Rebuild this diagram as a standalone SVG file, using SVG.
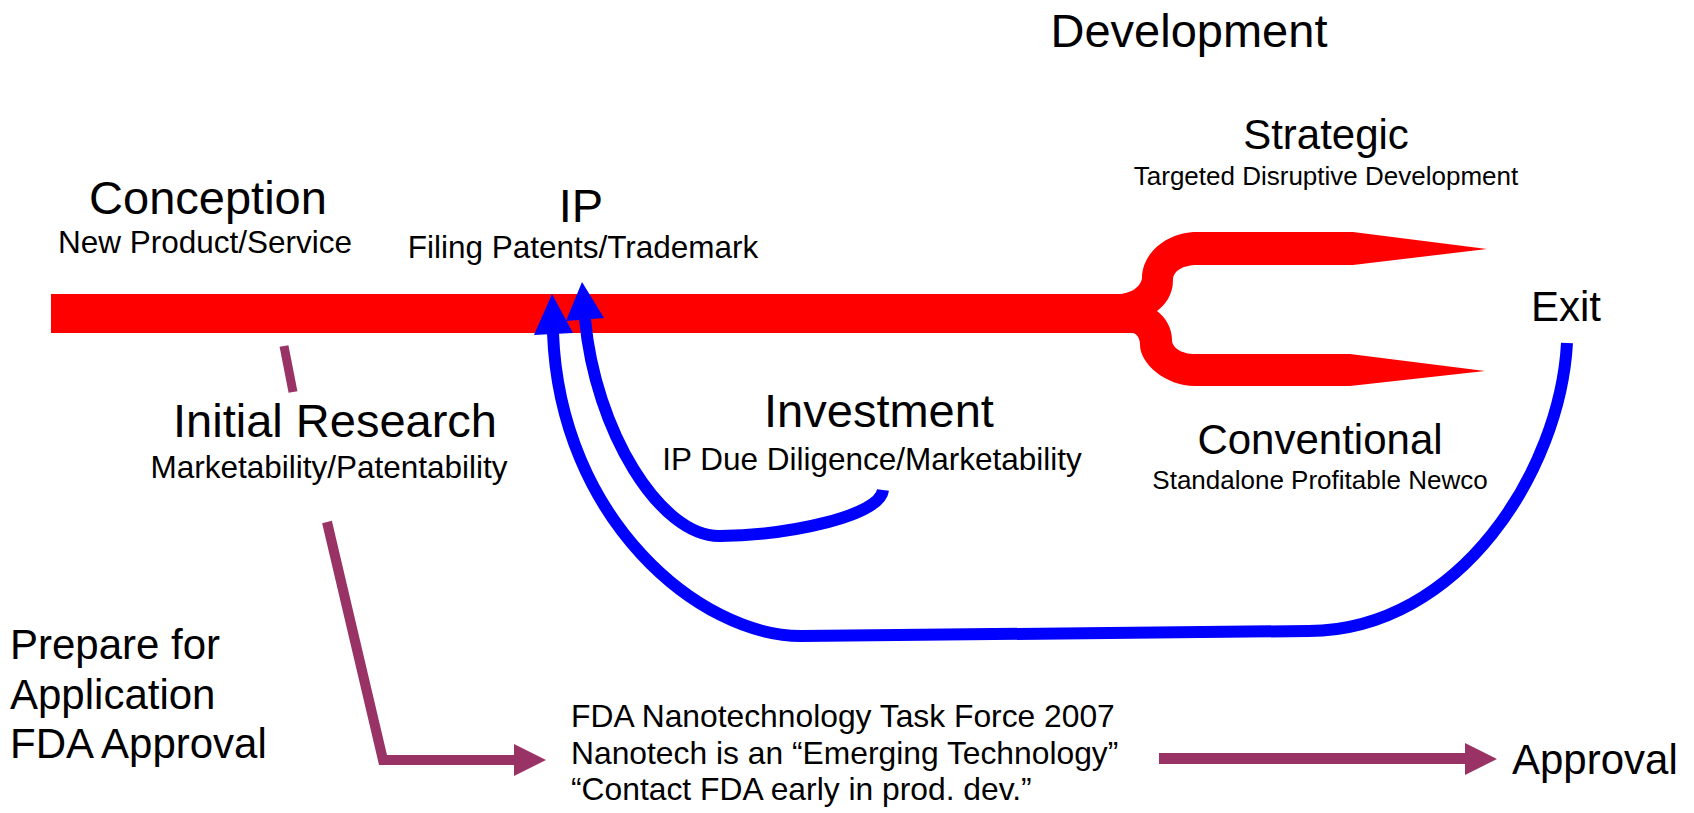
<svg xmlns="http://www.w3.org/2000/svg" width="1694" height="813" viewBox="0 0 1694 813">
<style>
text{font-family:"Liberation Sans",Arial,sans-serif;fill:#000}
.c{text-anchor:middle}
.t47{font-size:47px}
.t42{font-size:42px}
.t31{font-size:31.5px}
.t32{font-size:31.8px}
.t26{font-size:26px}
.red{fill:#FF0000}
.blue{fill:none;stroke:#0000FF;stroke-width:12}
.bhead{fill:#0000FF}
.pur{fill:none;stroke:#993366;stroke-width:10;stroke-linejoin:miter}
.phead{fill:#993366}
</style>
<rect width="1694" height="813" fill="#fff"/>
<g id="timeline">
<rect class="red" x="51" y="294" width="1069" height="39"/>
<path class="red" d="M1110,294 L1118,294 C1130,294 1141,287 1142,278 C1142,253 1167,232 1197,232 L1353,232 L1487,249 L1353,265 L1197,265 C1185,265 1173,270 1173,280 C1173,295 1165,305 1157,311 C1166,318 1172,328 1172,340 C1172,348 1182,354 1195,354 L1350,354 L1485,371 L1350,386 L1195,386 C1165,386 1140,363 1140,345 C1140,338 1137,334 1133,333 L1110,333 Z"/>
</g>
<g id="connectors">
<path class="blue" d="M883,490 C880,516 790,535 720,536 C660,537 595,430 585,319"/>
<polygon class="bhead" points="582,282 604,318 566,321"/>
<path class="blue" d="M1567,343 C1560,470 1460,630 1309,631 L801,636 C700,636 560,520 553,333"/>
<polygon class="bhead" points="552,294 573,333 534,335"/>
<line class="pur" x1="284" y1="346" x2="293" y2="392" style="stroke-width:9"/>
<polyline class="pur" points="327,522 383,760 518,760"/>
<polygon class="phead" points="514,744 546,760 514,776"/>
<line class="pur" x1="1159" y1="758.5" x2="1467" y2="758.5" style="stroke-width:11"/>
<polygon class="phead" points="1465,743 1497,759 1465,775"/>
</g>
<g id="development"><text class="c t47" x="1189" y="47">Development</text></g>
<g id="strategic"><text class="c t42" x="1326" y="149">Strategic</text><text class="c t26" x="1326" y="185">Targeted Disruptive Development</text></g>
<g id="conception"><text class="c t47" x="208" y="214">Conception</text><text class="c t31" x="205" y="253">New Product/Service</text></g>
<g id="ip"><text class="c t47" x="581" y="222">IP</text><text class="c t31" x="583" y="258">Filing Patents/Trademark</text></g>
<g id="exit"><text class="c t42" x="1566" y="321">Exit</text></g>
<g id="initial-research"><text class="c t47" x="335" y="437">Initial Research</text><text class="c t31" x="329" y="478">Marketability/Patentability</text></g>
<g id="investment"><text class="c t47" x="879" y="427">Investment</text><text class="c t31" x="872" y="470">IP Due Diligence/Marketability</text></g>
<g id="conventional"><text class="c t42" x="1320" y="454">Conventional</text><text class="c t26" x="1320" y="489">Standalone Profitable Newco</text></g>
<g id="prepare"><text class="t42" x="10" y="659">Prepare for</text><text class="t42" x="10" y="709">Application</text><text class="t42" x="10" y="758">FDA Approval</text></g>
<g id="fda-task-force"><text class="t32" x="571" y="727">FDA Nanotechnology Task Force 2007</text><text class="t32" x="571" y="763.5">Nanotech is an “Emerging Technology”</text><text class="t32" x="571" y="800">“Contact FDA early in prod. dev.”</text></g>
<g id="approval"><text class="t42" x="1512" y="774">Approval</text></g>
</svg>
